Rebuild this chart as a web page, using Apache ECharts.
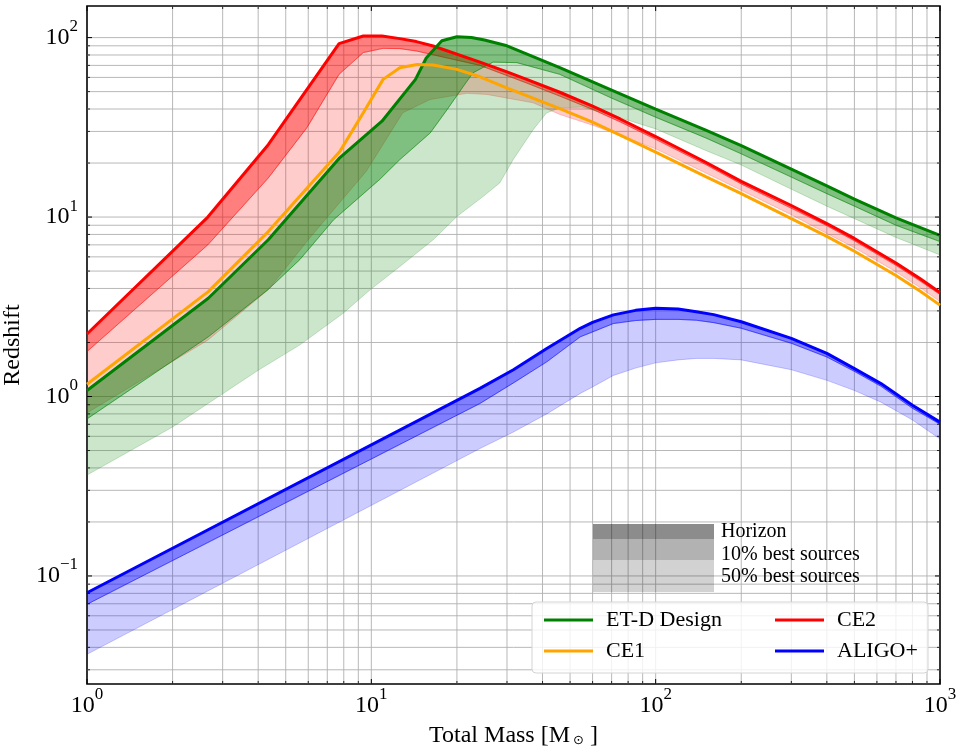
<!DOCTYPE html>
<html><head><meta charset="utf-8">
<script src="https://cdn.jsdelivr.net/npm/echarts@6/dist/echarts.min.js"></script>
<style>html,body{margin:0;padding:0;background:#fff}#c{width:959px;height:752px}</style>
</head><body><div id="c"></div>
<script>
// ---- data: [Total Mass, Redshift] ----
const ce2Horizon = [[1,2.23],[2.66,10.0],[4.34,25.3],[7.7,92.6],[9.37,102],[10.9,102],[12.6,98.7],[14.4,95],[16.5,89.8],[24.1,73],[30,64.4],[35,58.7],[46,49.6],[60,41.5],[75,35.2],[100,28.1],[150,20.2],[200,15.8],[300,11.6],[400,9.2],[500,7.6],[700,5.55],[850,4.55],[1000,3.8]];
const ce2Best10 = [[1,1.78],[2.66,7.0],[4.34,16.5],[5.93,31.4],[7.7,62.4],[9.37,82.5],[11,87.1],[12.6,86.8],[14.4,84.2],[24.1,70],[35,56],[46,47.2],[60,39.8],[75,33.9],[100,27.1],[150,19.6],[200,15.3],[300,11.2],[400,8.95],[500,7.37],[700,5.38],[850,4.41],[1000,3.7]];
const ce2Best50 = [[1,0.81],[2.66,2.06],[4.34,3.93],[6.0,7.47],[9.6,18],[12.9,38.1],[16.1,45.2],[21.7,48.9],[25.5,48.2],[37.1,43.3],[46,37.3],[60,32.5],[75,28.5],[100,24.0],[150,17.6],[200,14.1],[300,10.3],[400,8.1],[500,6.75],[700,4.95],[850,4.05],[1000,3.38]];
const ce1Horizon = [[1,1.17],[2.67,3.84],[4.34,8.3],[7.76,23.3],[9.37,38.1],[11,58.5],[12.6,68],[14.5,70.9],[16.5,70.3],[20,66.5],[24.1,60.5],[29.9,52.5],[35,47.6],[46,40.2],[60,33.8],[75,28.6],[100,23.0],[150,16.8],[200,13.5],[300,9.8],[400,7.8],[500,6.45],[700,4.72],[850,3.87],[1000,3.23]];
const etHorizon = [[1,1.08],[2.67,3.53],[4.34,7.47],[7.7,21.2],[10.9,34.2],[14.3,58.5],[15.6,77],[17.7,96],[20,101],[22.5,100],[25,97],[30,90],[46,68],[70,51],[100,40],[150,30.5],[200,25],[300,18.5],[400,14.9],[500,12.6],[700,9.9],[1000,7.9]];
const etBest10 = [[1,0.75],[2.67,2.15],[4.34,3.95],[5.61,5.8],[7.37,9.66],[10.7,16.2],[12.6,20.9],[16.1,29.4],[18.5,39.8],[21.1,53.7],[22.8,63.7],[26.8,73],[32.5,72.5],[46,62.4],[70,46],[100,36],[150,27.6],[200,22.5],[300,16.7],[400,13.5],[500,11.5],[700,9.0],[1000,7.3]];
const etBest50 = [[1,0.365],[2,0.676],[4,1.40],[5.61,1.94],[7.96,2.91],[9.9,3.93],[12.6,5.3],[16.5,7.47],[20,10.07],[24.7,13.0],[28.3,15.5],[31.6,21],[37.1,30.7],[41.3,38],[46,40.6],[55,41],[70,37],[100,31],[150,23.5],[200,19.5],[300,14.3],[400,11.5],[500,9.8],[700,7.7],[1000,6.15]];
const aligoHorizon = [[1,0.0806],[24.1,1.11],[31.6,1.41],[41.4,1.85],[54.3,2.40],[60,2.59],[71,2.85],[85,3.02],[100,3.1],[120,3.07],[139,2.97],[160,2.86],[200,2.61],[300,2.11],[400,1.74],[500,1.43],[620,1.18],[800,0.894],[1000,0.72]];
const aligoBest10 = [[1,0.0695],[24.1,0.914],[31.6,1.19],[41.4,1.56],[54.3,2.15],[60,2.29],[71,2.55],[85,2.65],[100,2.69],[120,2.69],[139,2.66],[160,2.58],[200,2.4],[300,1.98],[400,1.66],[500,1.38],[620,1.14],[800,0.86],[1000,0.70]];
const aligoBest50 = [[1,0.0366],[24.1,0.513],[31.6,0.634],[41.4,0.80],[54.3,1.04],[60,1.13],[71,1.31],[85,1.44],[100,1.54],[120,1.60],[139,1.63],[160,1.63],[200,1.60],[300,1.41],[400,1.23],[500,1.08],[620,0.93],[800,0.74],[1000,0.58]];

const xMajorTicks = [1,10,100,1000];
const xMinorTicks = [2,3,4,5,6,7,8,9,20,30,40,50,60,70,80,90,200,300,400,500,600,700,800,900];
const yMajorTicks = [0.1,1,10,100];
const yMinorTicks = [0.03,0.04,0.05,0.06,0.07,0.08,0.09,0.2,0.3,0.4,0.5,0.6,0.7,0.8,0.9,2,3,4,5,6,7,8,9,20,30,40,50,60,70,80,90];
const shadeLabels = ['Horizon','10% best sources','50% best sources'];

const FONT = '"Liberation Serif","Times New Roman",serif';
const GRID = '#b0b0b0';

const chart = echarts.init(document.getElementById('c'));

function bandSeries(upper, lower, rgb, alpha){
  const col = 'rgba(' + rgb + ',' + alpha + ')';
  return {
    type:'custom', silent:true, clip:true, z:2, data:[upper[0]],
    renderItem:function(params, api){
      const pts = upper.map(p=>api.coord(p)).concat(lower.slice().reverse().map(p=>api.coord(p)));
      return {type:'polygon', shape:{points:pts}, style:{fill:col, stroke:col, lineWidth:1}};
    }
  };
}
function lineSeries(name, data, color){
  return {type:'line', name:name, data:data, symbol:'none', showSymbol:false, silent:true, z:2,
    lineStyle:{color:color, width:3}, itemStyle:{color:color}};
}
const tickDefs = [];
xMajorTicks.forEach(v=>tickDefs.push({a:'x',v:v,m:1}));
xMinorTicks.forEach(v=>tickDefs.push({a:'x',v:v,m:0}));
yMajorTicks.forEach(v=>tickDefs.push({a:'y',v:v,m:1}));
yMinorTicks.forEach(v=>tickDefs.push({a:'y',v:v,m:0}));

function tickSeries(drawGrid){
  return {
    type:'custom', silent:true, clip:false, z: drawGrid ? 1 : 10,
    data: tickDefs.map(()=>[1,1]),
    renderItem:function(params, api){
      const t = tickDefs[params.dataIndex];
      const cs = params.coordSys;
      const L = t.m ? 5 : 3;
      const lw = t.m ? 1 : 0.8;
      const ch = [];
      if (t.a === 'x'){
        const x = api.coord([t.v,1])[0];
        if (drawGrid){
          if (x > cs.x + 1 && x < cs.x + cs.width - 1)
            ch.push({type:'line', shape:{x1:x,y1:cs.y,x2:x,y2:cs.y+cs.height}, style:{stroke:GRID,lineWidth:0.9}});
        } else {
          ch.push({type:'line', shape:{x1:x,y1:cs.y+cs.height,x2:x,y2:cs.y+cs.height-L}, style:{stroke:'#000',lineWidth:lw}});
          ch.push({type:'line', shape:{x1:x,y1:cs.y,x2:x,y2:cs.y+L}, style:{stroke:'#000',lineWidth:lw}});
        }
      } else {
        const y = api.coord([1,t.v])[1];
        if (drawGrid){
          ch.push({type:'line', shape:{x1:cs.x,y1:y,x2:cs.x+cs.width,y2:y}, style:{stroke:GRID,lineWidth:0.9}});
        } else {
          ch.push({type:'line', shape:{x1:cs.x,y1:y,x2:cs.x+L,y2:y}, style:{stroke:'#000',lineWidth:lw}});
          ch.push({type:'line', shape:{x1:cs.x+cs.width,y1:y,x2:cs.x+cs.width-L,y2:y}, style:{stroke:'#000',lineWidth:lw}});
        }
      }
      return {type:'group', children:ch};
    }
  };
}
function powLabel(v){
  const e = Math.log10(v), r = Math.round(e);
  if (Math.abs(e - r) > 1e-6) return '';
  return '{b|10}{s|' + (r < 0 ? '\u2212' + (-r) : '' + r) + '}';
}
const labelRich = {
  b:{fontFamily:FONT, fontSize:24, color:'#000'},
  s:{fontFamily:FONT, fontSize:17, color:'#000', padding:[0,0,22,0]}
};

const option = {
  animation:false,
  backgroundColor:'#fff',
  grid:{left:87, right:19, top:6, bottom:68, containLabel:false, outerBoundsMode:'none',
        show:true, borderColor:'#000', borderWidth:1.6, backgroundColor:'transparent'},
  xAxis:{type:'log', logBase:10, min:1, max:1000,
    axisLine:{show:false}, axisTick:{show:false}, splitLine:{show:false}, minorTick:{show:false}, minorSplitLine:{show:false},
    axisLabel:{formatter:powLabel, rich:labelRich, margin:2, showMinLabel:true, showMaxLabel:true, hideOverlap:false},
    name:'Total Mass [M{o|\u2299} ]', nameLocation:'middle', nameGap:40,
    nameTextStyle:{fontFamily:FONT, fontSize:24, color:'#000',
      rich:{o:{fontFamily:'DejaVu Sans', fontSize:13, color:'#000', padding:[10,0,0,3]}}}
  },
  yAxis:{type:'log', logBase:10, min:0.025, max:150,
    axisLine:{show:false}, axisTick:{show:false}, splitLine:{show:false}, minorTick:{show:false}, minorSplitLine:{show:false},
    axisLabel:{formatter:powLabel, rich:labelRich, margin:9, showMinLabel:false, showMaxLabel:false, hideOverlap:false},
    name:'Redshift', nameLocation:'middle', nameGap:56,
    nameTextStyle:{fontFamily:FONT, fontSize:24, color:'#000'}
  },
  legend:[
    {data:['ET-D Design','CE1'], orient:'vertical', left:539, top:604, itemWidth:49, itemHeight:3, itemGap:9,
     icon:'rect', selectedMode:false, z:8, textStyle:{fontFamily:FONT, fontSize:22, color:'#000', padding:[0,0,0,8]}},
    {data:['CE2','ALIGO+'], orient:'vertical', left:770, top:604, itemWidth:49, itemHeight:3, itemGap:9,
     icon:'rect', selectedMode:false, z:8, textStyle:{fontFamily:FONT, fontSize:22, color:'#000', padding:[0,0,0,8]}}
  ],
  graphic:[
    {type:'rect', z:6, shape:{x:532, y:602, width:396, height:71, r:4}, style:{fill:'rgba(255,255,255,0.8)', stroke:'#d4d4d4', lineWidth:1}},
    {type:'rect', z:6, shape:{x:593, y:524, width:121, height:15}, style:{fill:'rgba(0,0,0,0.45)'}},
    {type:'rect', z:6, shape:{x:593, y:539, width:121, height:21}, style:{fill:'rgba(0,0,0,0.3)'}},
    {type:'rect', z:6, shape:{x:593, y:560, width:121, height:32}, style:{fill:'rgba(0,0,0,0.175)'}},
    {type:'text', z:7, x:721, y:532, style:{text:shadeLabels[0], font:'20px ' + FONT, fill:'#000', verticalAlign:'middle'}},
    {type:'text', z:7, x:721, y:555, style:{text:shadeLabels[1], font:'20px ' + FONT, fill:'#000', verticalAlign:'middle'}},
    {type:'text', z:7, x:721, y:577, style:{text:shadeLabels[2], font:'20px ' + FONT, fill:'#000', verticalAlign:'middle'}}
  ],
  series:[
    tickSeries(true),
    bandSeries(ce2Horizon, ce2Best10, '255,0,0', 0.5),
    bandSeries(ce2Best10, ce2Best50, '255,0,0', 0.2),
    lineSeries('CE2', ce2Horizon, '#ff0000'),
    bandSeries(etHorizon, etBest10, '0,128,0', 0.5),
    bandSeries(etBest10, etBest50, '0,128,0', 0.2),
    lineSeries('ET-D Design', etHorizon, '#008000'),
    lineSeries('CE1', ce1Horizon, '#ffa500'),
    bandSeries(aligoHorizon, aligoBest10, '0,0,255', 0.5),
    bandSeries(aligoBest10, aligoBest50, '0,0,255', 0.2),
    lineSeries('ALIGO+', aligoHorizon, '#0000ff'),
    tickSeries(false)
  ]
};
chart.setOption(option);
</script></body></html>
